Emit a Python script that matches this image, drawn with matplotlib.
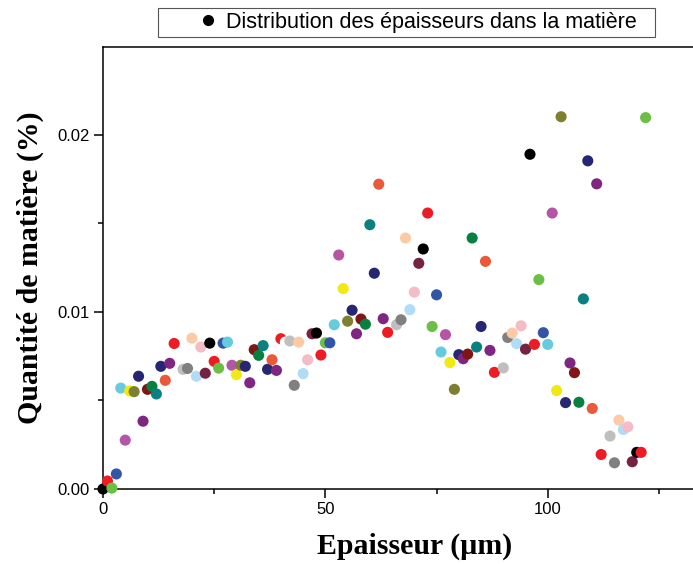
import numpy as np
import matplotlib
matplotlib.use("Agg")
import matplotlib.pyplot as plt
from matplotlib.ticker import MultipleLocator, FormatStrFormatter
from matplotlib.lines import Line2D
from matplotlib.patches import Rectangle

# thickness bins (um), one point per micrometre
thickness = np.arange(0, 123)
# amount of matter (%)
quantity = [
    0.0, 0.00045, 0.00005, 0.00085, 0.0057, 0.00276, 0.00554, 0.0055,
    0.00637, 0.00383, 0.00563, 0.0058, 0.00537, 0.00693, 0.00614, 0.0071,
    0.00822, 0.0075, 0.00676, 0.00681, 0.00852, 0.00637, 0.00802, 0.00654,
    0.00824, 0.00721, 0.00683, 0.00824, 0.0083, 0.00699, 0.00646, 0.00699,
    0.00693, 0.006, 0.00787, 0.00755, 0.0081, 0.00676, 0.0073, 0.0067,
    0.00849, 0.0083, 0.00836, 0.00586, 0.0083, 0.00652, 0.0073, 0.00877,
    0.00881, 0.00757, 0.00826, 0.00826, 0.00928, 0.01322, 0.01132, 0.00948,
    0.0101, 0.00877, 0.0096, 0.00931, 0.01493, 0.01219, 0.01722, 0.00962,
    0.00885, 0.0105, 0.00928, 0.00956, 0.01418, 0.01013, 0.01112, 0.01275,
    0.01356, 0.01559, 0.00918, 0.01097, 0.00774, 0.00872, 0.00714, 0.00563,
    0.00759, 0.00736, 0.00762, 0.01418, 0.00802, 0.00918, 0.01286, 0.00783,
    0.00659, 0.0100, 0.00684, 0.00856, 0.00881, 0.00821, 0.00922, 0.0079,
    0.01891, 0.00817, 0.01183, 0.00883, 0.00817, 0.01559, 0.00556, 0.02103,
    0.00488, 0.00712, 0.00657, 0.0049, 0.01074, 0.01854, 0.00455, 0.01724,
    0.00195, 0.0028, 0.00299, 0.00148, 0.00389, 0.00336, 0.00351, 0.00154,
    0.00207, 0.00207, 0.02098,
]
legend_label = "Distribution des épaisseurs dans la matière"

# Origin-like colour increment, cycles every 24 points
palette = [
    "#000000", "#ED1C24", "#6CBF45", "#3355A5", "#66CCDD", "#B555A5",
    "#F2E812", "#7F7F30", "#262673", "#7F2582", "#801515", "#0A8040",
    "#0A8080", "#262673", "#EA5A3A", "#7F2582", "#ED1C24", "#FFFFFF",
    "#BFBFBF", "#808080", "#FCCAA5", "#B0DDF5", "#F5BCC8", "#752340",
]
colors = [palette[i % len(palette)] for i in range(len(quantity))]

plt.rcParams["font.family"] = ["Liberation Sans", "DejaVu Sans"]

W, H = 693, 564
fig = plt.figure(figsize=(W / 100, H / 100), dpi=100)
# the original plot frame runs past the right edge of the picture
ax = fig.add_axes([103 / W, 1 - 489 / H, 624 / W, 442 / H])

ax.scatter(thickness, quantity, c=colors, s=64, linewidths=0,
           zorder=3, clip_on=False)

ax.set_xlim(0, 140.3)
ax.set_ylim(0, 0.02497)
ax.xaxis.set_major_locator(MultipleLocator(50))
ax.xaxis.set_minor_locator(MultipleLocator(25))
ax.yaxis.set_major_locator(MultipleLocator(0.01))
ax.yaxis.set_minor_locator(MultipleLocator(0.005))
ax.yaxis.set_major_formatter(FormatStrFormatter("%.2f"))

ax.tick_params(which="major", direction="out", length=6.5, width=1.1,
               labelsize=12, pad=3)
ax.tick_params(which="minor", direction="out", length=3.5, width=1.1)
ax.tick_params(top=False, right=False)
for side in ("left", "bottom", "top"):
    ax.spines[side].set_linewidth(1.1)
ax.spines["right"].set_visible(False)

label_font = dict(family=["Liberation Serif", "DejaVu Serif"],
                  weight="bold", size=21.5)
ax.set_xlabel("Epaisseur (µm)", labelpad=11, **label_font)
ax.set_ylabel("Quantité de matière (%)", labelpad=10, **label_font)

# legend box
fig.patches.append(Rectangle((158 / W, 1 - 37 / H), 497 / W, 29 / H,
                             transform=fig.transFigure, fill=False,
                             edgecolor="#555555", linewidth=0.8))
handle = Line2D([], [], ls="none", marker="o", color="black", markersize=7)
fig.legend([handle], [legend_label], loc="center left",
           bbox_to_anchor=(197 / W, 1 - 22.5 / H),
           fontsize=15.5, frameon=False, borderpad=0,
           handletextpad=0.33, handlelength=1.0, borderaxespad=0)

fig.savefig("out.png", dpi=100)
